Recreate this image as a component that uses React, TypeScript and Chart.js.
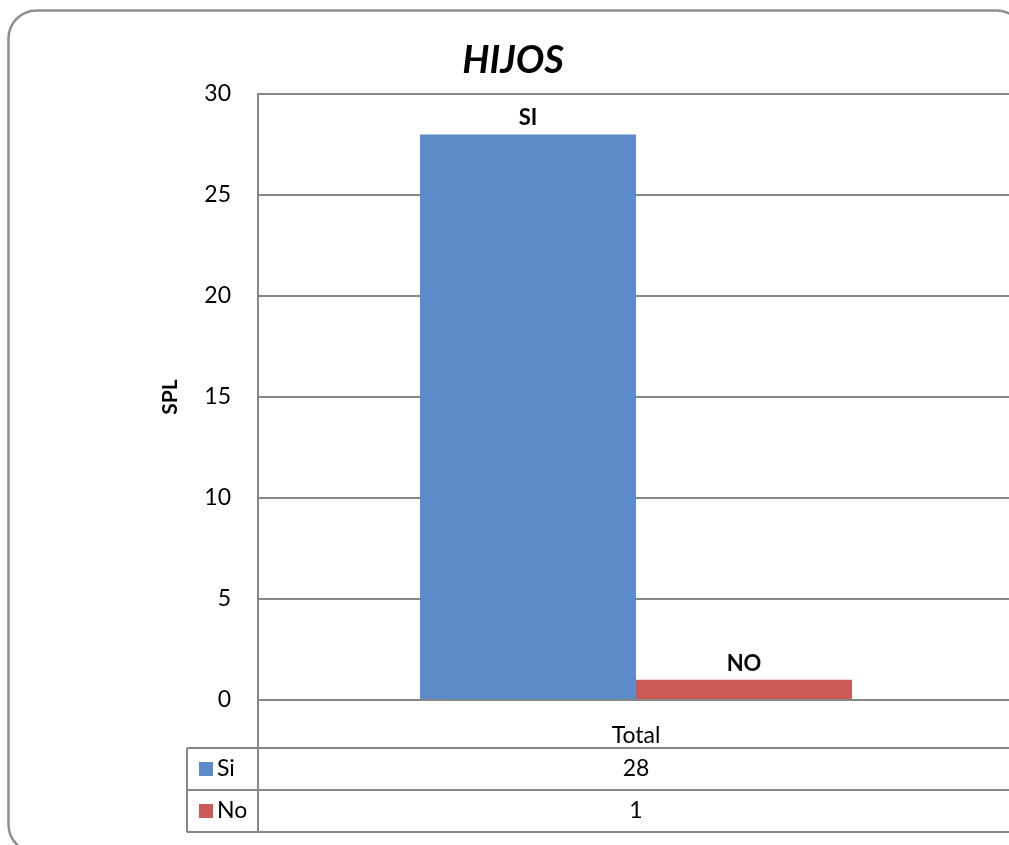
import React, { useEffect, useRef } from "react";
import { Chart, registerables } from "chart.js";

Chart.register(...registerables);

const categories = ["Total"];
const seriesNames = ["Si", "No"];
const siValues = [28];
const noValues = [1];
const barLabels = ["SI", "NO"];
const seriesColors = ["#5B8CC9", "#CB5A56"];
const chartTitle = "HIJOS";
const yAxisTitle = "SPL";

const FONT = "Lato, 'Open Sans', sans-serif";
const GRID = "#878787";
const CANVAS_W = 1030;
const CANVAS_H = 845;

const borderPlugin = {
  id: "roundedBorder",
  beforeDraw(chart: any) {
    const ctx = chart.ctx;
    ctx.save();
    ctx.fillStyle = "#ffffff";
    ctx.fillRect(0, 0, chart.width, chart.height);
    const x = 8.5, y = 10.5, w = 1016, h = 842, r = 28;
    ctx.beginPath();
    ctx.moveTo(x + r, y);
    ctx.lineTo(x + w - r, y);
    ctx.arcTo(x + w, y, x + w, y + r, r);
    ctx.lineTo(x + w, y + h - r);
    ctx.arcTo(x + w, y + h, x + w - r, y + h, r);
    ctx.lineTo(x + r, y + h);
    ctx.arcTo(x, y + h, x, y + h - r, r);
    ctx.lineTo(x, y + r);
    ctx.arcTo(x, y, x + r, y, r);
    ctx.closePath();
    ctx.strokeStyle = "#8E8E8E";
    ctx.lineWidth = 2.5;
    ctx.stroke();
    ctx.restore();
  },
};

const barLabelPlugin = {
  id: "barLabels",
  afterDatasetsDraw(chart: any) {
    const ctx = chart.ctx;
    ctx.save();
    ctx.font = `bold 22px ${FONT}`;
    ctx.fillStyle = "#000";
    ctx.textAlign = "center";
    ctx.textBaseline = "bottom";
    chart.data.datasets.forEach((_: any, i: number) => {
      const meta = chart.getDatasetMeta(i);
      meta.data.forEach((bar: any) => {
        ctx.fillText(barLabels[i], bar.x, bar.y - 5);
      });
    });
    ctx.restore();
  },
};

const dataTablePlugin = {
  id: "dataTable",
  afterDraw(chart: any) {
    const ctx = chart.ctx;
    const area = chart.chartArea;
    const xScale = chart.scales.x;
    const rowTop = area.bottom + 48;
    const rowH = 42;
    const tableLeft = 187;
    const right = chart.width;
    ctx.save();
    ctx.strokeStyle = GRID;
    ctx.lineWidth = 2;
    ctx.beginPath();
    for (let r = 0; r <= seriesNames.length; r++) {
      ctx.moveTo(tableLeft, rowTop + r * rowH);
      ctx.lineTo(right, rowTop + r * rowH);
    }
    ctx.moveTo(tableLeft, rowTop);
    ctx.lineTo(tableLeft, rowTop + seriesNames.length * rowH);
    ctx.moveTo(area.left, area.bottom);
    ctx.lineTo(area.left, rowTop + seriesNames.length * rowH);
    ctx.stroke();

    const values = [siValues, noValues];
    seriesNames.forEach((name, r) => {
      const cy = rowTop + r * rowH + rowH / 2;
      ctx.fillStyle = seriesColors[r];
      ctx.fillRect(199, cy - 7, 14, 14);
      ctx.fillStyle = "#000";
      ctx.font = `23px ${FONT}`;
      ctx.textAlign = "left";
      ctx.textBaseline = "middle";
      ctx.fillText(name, 217, cy);
      ctx.textAlign = "center";
      categories.forEach((_, ci) => {
        ctx.fillText(String(values[r][ci]), xScale.getPixelForValue(ci), cy);
      });
    });
    ctx.restore();
  },
};

export default function App() {
  const ref = useRef<HTMLCanvasElement | null>(null);

  useEffect(() => {
    if (!ref.current) return;
    const chart = new Chart(ref.current, {
      type: "bar",
      data: {
        labels: categories,
        datasets: [
          {
            label: seriesNames[0],
            data: siValues,
            backgroundColor: seriesColors[0],
            barPercentage: 1,
            categoryPercentage: 432 / 756,
          },
          {
            label: seriesNames[1],
            data: noValues,
            backgroundColor: seriesColors[1],
            barPercentage: 1,
            categoryPercentage: 432 / 756,
          },
        ],
      },
      options: {
        responsive: false,
        animation: false,
        devicePixelRatio: 1,
        layout: { padding: { left: 12, right: CANVAS_W - 1014, top: 0, bottom: 0 } },
        plugins: {
          legend: { display: false },
          tooltip: { enabled: false },
          title: {
            display: true,
            text: chartTitle,
            color: "#000",
            font: { family: FONT, size: 38, weight: "bold", style: "italic", lineHeight: 1.2 },
            padding: { top: 61 - 22.8, bottom: 94 - 61 - 22.8 },
          },
        },
        scales: {
          x: {
            grid: { display: false },
            border: { display: false },
            ticks: { color: "#000", font: { family: FONT, size: 23 }, padding: 14 },
            afterFit: (s: any) => {
              s.height = 145;
            },
          },
          y: {
            min: 0,
            max: 30,
            ticks: { stepSize: 5, color: "#000", font: { family: FONT, size: 23 }, padding: 27 },
            grid: { color: GRID, lineWidth: 2, drawTicks: false },
            border: { display: true, color: GRID, width: 2 },
            title: {
              display: true,
              text: yAxisTitle,
              color: "#000",
              font: { family: FONT, size: 21, weight: "bold", lineHeight: 1.2 },
              padding: { top: 145.5, bottom: 0 },
            },
            afterFit: (s: any) => {
              s.width = 246;
            },
          },
        },
      },
      plugins: [borderPlugin, barLabelPlugin, dataTablePlugin],
    });
    return () => chart.destroy();
  }, []);

  return (
    <div
      style={{
        position: "fixed",
        left: 0,
        top: 0,
        width: 1009,
        height: 845,
        overflow: "hidden",
        background: "#fff",
      }}
    >
      <canvas
        ref={ref}
        width={CANVAS_W}
        height={CANVAS_H}
        style={{ width: CANVAS_W, height: CANVAS_H, display: "block" }}
      />
    </div>
  );
}
